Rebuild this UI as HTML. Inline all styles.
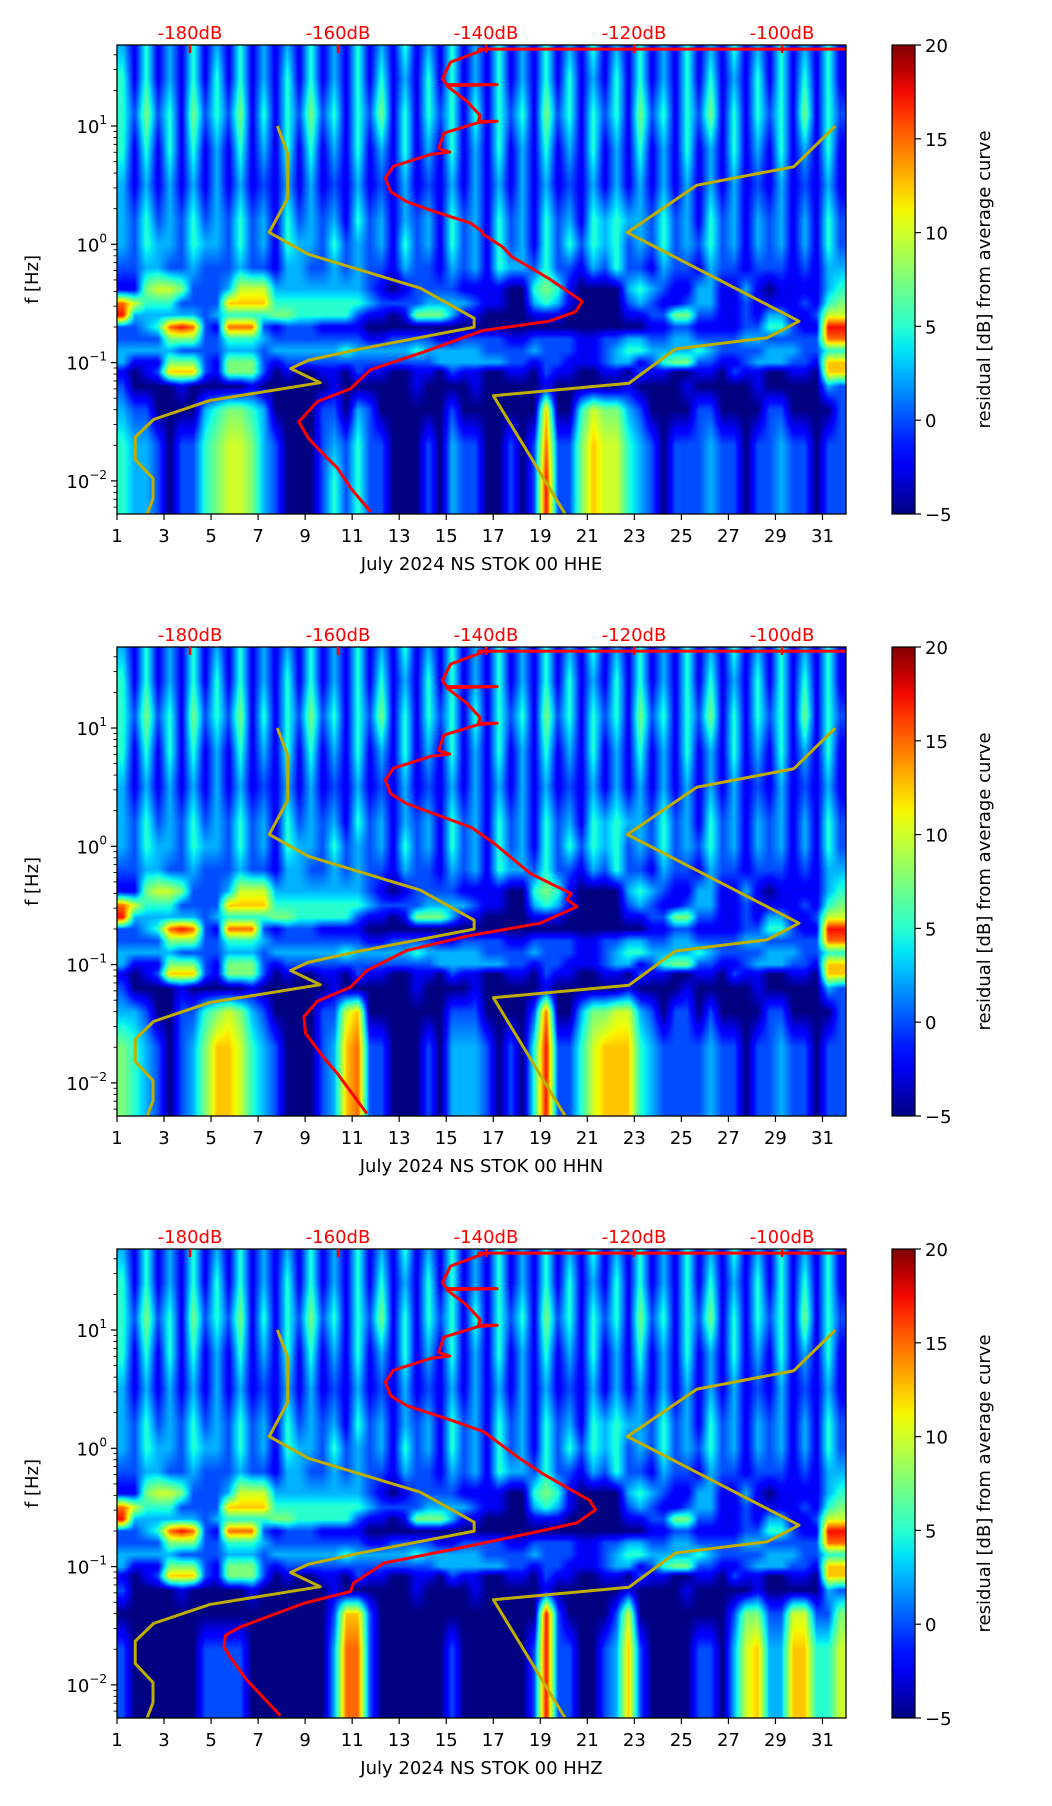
<!DOCTYPE html>
<html><head><meta charset="utf-8"><style>
body{margin:0;background:#fff;width:1052px;height:1806px;position:relative;overflow:hidden;font-family:"DejaVu Sans","Liberation Sans",sans-serif}
canvas{position:absolute}
svg{position:absolute;left:0;top:0}
</style></head><body>
<canvas id="c0" width="729" height="469" style="left:117px;top:45px"></canvas>
<canvas id="c1" width="729" height="469" style="left:117px;top:647px"></canvas>
<canvas id="c2" width="729" height="469" style="left:117px;top:1249px"></canvas>
<svg id="ov" width="1052" height="1806"></svg>
<script>
// ---- data ----
const channels = ["HHE","HHN","HHZ"];
const rowLogF = [1.68,1.4,1.1,0.8,0.5,0.2,0.0,-0.2,-0.38,-0.5,-0.6,-0.7,-0.8,-0.9,-1.0,-1.08,-1.2,-1.4,-1.7,-2.0,-2.28];
const upperRows = [
"31 41 31 41 31 41 31 31 41 31 41 31 41 31 41 31 41 31 41 31 41 31 41 31 41 31 41 31 41 31 41",
"41 41 31 41 41 41 31 41 41 31 41 41 31 41 41 31 41 31 41 41 31 41 41 31 41 41 31 41 41 41 41",
"42 52 41 52 42 51 41 42 52 41 42 51 41 42 41 41 42 41 52 41 42 41 52 41 42 51 41 42 41 51 42",
"41 41 41 41 31 41 31 41 41 31 41 31 41 31 41 31 41 31 41 31 41 31 41 31 41 31 41 31 41 31 41",
"31 31 31 31 31 31 21 31 31 21 31 21 31 21 31 31 31 31 31 21 31 31 31 31 31 31 31 21 31 21 31",
"32 42 32 42 32 42 31 42 32 31 42 31 32 31 42 31 42 31 42 31 43 43 32 42 31 42 31 32 31 31 42",
"32 43 32 43 32 42 31 43 32 42 32 31 42 31 42 31 42 31 42 42 43 42 32 42 32 42 31 32 31 31 42",
"22 33 22 32 22 32 21 33 22 32 32 21 32 21 32 31 43 32 42 21 32 42 21 32 21 32 21 22 21 21 33",
"11 56 65 22 23 66 63 33 33 33 32 10 12 22 21 11 10 04 54 10 00 03 43 21 13 31 13 10 11 11 34",
"86 44 42 22 27 77 74 44 44 44 43 22 22 33 33 21 10 03 43 10 00 02 32 11 23 31 12 11 11 21 45",
"93 33 33 32 34 44 45 54 44 44 21 10 15 55 31 10 00 01 11 00 00 01 12 25 52 21 12 13 31 12 66",
"22 34 89 82 18 88 21 22 21 11 10 00 00 00 00 00 00 00 00 00 00 00 01 12 21 11 12 24 42 11 99",
"22 22 55 52 24 44 32 22 22 22 21 12 22 21 12 22 21 12 22 21 12 23 32 23 32 22 23 32 22 22 88",
"33 33 32 22 23 33 23 33 33 34 33 33 34 33 33 32 22 23 22 21 12 34 43 33 34 32 22 23 33 22 44",
"31 11 55 52 15 55 21 22 22 22 22 22 22 23 33 33 32 21 22 11 12 33 12 45 52 21 12 33 32 21 77",
"10 12 77 72 15 55 20 10 01 10 21 10 01 10 21 10 01 10 21 10 01 10 21 10 01 10 21 10 01 10 77",
"20 00 01 00 00 01 00 00 00 10 00 00 01 00 00 10 00 00 10 00 00 01 00 00 10 00 00 10 00 00 32"
];
const bottomE = [
"32 20 00 03 45 54 30 00 02 20 32 00 00 00 20 00 00 00 70 04 65 53 20 00 02 20 00 02 20 00 02",
"43 32 02 24 56 65 32 00 02 32 42 20 00 20 32 20 02 02 82 25 76 64 32 02 22 32 20 22 32 20 22",
"43 32 02 24 56 65 32 00 02 42 42 20 00 20 32 20 02 02 92 25 76 64 32 02 22 32 20 22 32 20 22",
"43 32 02 24 56 65 32 00 02 42 42 20 00 20 32 20 02 02 92 25 76 64 32 02 22 32 20 22 32 20 22"
];
const bottomN = [
"33 20 02 24 56 53 20 00 02 26 70 00 00 00 22 20 00 02 80 03 55 66 32 02 20 20 00 02 20 00 02",
"54 32 02 35 77 64 32 00 02 37 82 20 00 20 33 32 02 04 92 24 67 77 43 22 22 32 20 22 32 20 22",
"54 32 02 35 77 64 32 00 02 37 82 20 00 20 33 32 02 04 92 24 67 77 43 22 22 32 20 22 32 20 22",
"54 32 02 35 77 64 32 00 02 37 82 20 00 20 33 32 02 04 92 24 67 77 43 22 22 32 20 22 32 20 22"
];
const bottomZ = [
"00 00 00 00 00 00 00 00 00 27 72 00 00 00 00 00 00 00 92 00 00 26 00 00 00 00 25 52 26 62 25",
"20 00 00 02 22 20 00 00 00 38 82 00 00 00 20 00 00 02 92 20 02 37 20 00 02 20 36 73 37 74 46",
"20 00 00 02 22 20 00 00 00 38 82 00 00 00 20 00 00 02 92 20 02 37 20 00 02 20 36 73 37 74 46",
"20 00 00 02 22 20 00 00 00 38 82 00 00 00 20 00 00 02 92 20 02 37 20 00 02 20 36 73 37 74 46"
];
const nlnmDb = [-168.2,-166.8,-166.8,-169.3,-164.0,-148.9,-141.6,-141.6,-157.4,-164.0,-166.4,-162.4,-177.3,-184.9,-187.4,-187.4,-185.0,-185.0,-185.8];
const nlnmLogF = [1.0,0.77,0.39,0.10,-0.085,-0.37,-0.625,-0.70,-0.89,-0.98,-1.05,-1.17,-1.32,-1.48,-1.63,-1.82,-1.98,-2.15,-2.28];
const nhnmDb = [-92.8,-98.4,-111.5,-120.9,-97.7,-102.0,-114.4,-120.7,-139.0,-129.3];
const nhnmLogF = [1.0,0.656,0.50,0.10,-0.65,-0.79,-0.885,-1.175,-1.28,-2.28];
const redTopDb = [-91.4,-141,-140.5,-144.8,-145.9,-145.3,-138.5,-145.3,-142.6,-140.8,-141.0,-138.5,-141.0,-145.7,-146.4,-144.9,-147.5,-152.5,-153.6,-152.9,-150.7];
const redTopLogF = [1.65,1.65,1.64,1.54,1.40,1.35,1.35,1.34,1.21,1.09,1.04,1.04,1.03,0.94,0.81,0.78,0.76,0.66,0.56,0.445,0.36];
const redEDb = [-147.1,-142.1,-140.5,-140.5,-137.8,-136.5,-131.5,-127.5,-127.0,-127.9,-131.5,-140.5,-148.4,-155.6,-158.3,-162.8,-165.3,-164.0,-161.9,-160.1,-158.3,-155.6];
const redELogF = [0.28,0.18,0.107,0.09,-0.02,-0.105,-0.29,-0.46,-0.485,-0.57,-0.65,-0.73,-0.91,-1.06,-1.22,-1.33,-1.50,-1.64,-1.78,-1.89,-2.06,-2.26];
const redNDb = [-142,-139,-134,-128.5,-129.1,-127.7,-132.7,-142.6,-150.7,-156.1,-158.3,-162.8,-164.6,-164.4,-161.9,-160.1,-156.1];
const redNLogF = [0.16,0.03,-0.23,-0.40,-0.45,-0.51,-0.65,-0.76,-0.88,-1.05,-1.19,-1.31,-1.44,-1.58,-1.79,-1.92,-2.26];
const redZDb = [-144.8,-140.3,-135.8,-132.2,-126,-125.2,-127.7,-132.7,-142.6,-153.8,-157.9,-158.3,-164.6,-173.2,-175.2,-175.4,-174.3,-172.3,-167.8];
const redZLogF = [0.24,0.14,-0.07,-0.22,-0.44,-0.52,-0.63,-0.70,-0.83,-0.97,-1.14,-1.21,-1.31,-1.51,-1.58,-1.68,-1.79,-1.96,-2.26];
const dayTicks = [1,3,5,7,9,11,13,15,17,19,21,23,25,27,29,31];
const dbTicks = [-180,-160,-140,-120,-100];
const cbTicks = [-5,0,5,10,15,20];
const yDecades = [-2,-1,0,1];

// ---- layout ----
const L=117, W=729, H=469, tops=[45,647,1249];
const LOGTOP=1.685, LOGBOT=-2.28, DAY0=1, DAY1=32;
const xDay = d => L + (d-DAY0)/(DAY1-DAY0)*W;
const yLog = (t,lf) => t + (LOGTOP-lf)/(LOGTOP-LOGBOT)*H;
const xDb = db => 190 + (db+180)*7.4;

function jet(t){
  t=Math.max(0,Math.min(1,t));
  const f=(x,pts)=>{for(let i=1;i<pts.length;i++){if(x<=pts[i][0]){const a=pts[i-1],b=pts[i];return a[1]+(b[1]-a[1])*(x-a[0])/(b[0]-a[0]);}}return pts[pts.length-1][1];};
  return [f(t,[[0,0],[0.35,0],[0.66,1],[0.89,1],[1,0.5]]),
          f(t,[[0,0],[0.125,0],[0.375,1],[0.64,1],[0.91,0],[1,0]]),
          f(t,[[0,0.5],[0.11,1],[0.34,1],[0.65,0],[1,0]])];
}
function parseRow(s){return s.replace(/\s/g,'').split('').map(c=>-5+(+c)*2.5);}

function drawHeat(cv, rows){
  const g=rows.map(parseRow);
  const ctx=cv.getContext('2d'); const img=ctx.createImageData(W,H);
  const nC=g[0].length;
  for(let py=0;py<H;py++){
    const lf=LOGTOP-(py+0.5)/H*(LOGTOP-LOGBOT);
    let r=0; while(r<rowLogF.length-2 && lf<rowLogF[r+1]) r++;
    let fy=(rowLogF[r]-lf)/(rowLogF[r]-rowLogF[r+1]); fy=Math.max(0,Math.min(1,fy));
    for(let px=0;px<W;px++){
      const d=DAY0+(px+0.5)/W*(DAY1-DAY0);
      let u=(d-DAY0)*2-0.5; u=Math.max(0,Math.min(nC-1.001,u));
      const c=Math.floor(u), fx=u-c;
      const v=(g[r][c]*(1-fx)+g[r][c+1]*fx)*(1-fy)+(g[r+1][c]*(1-fx)+g[r+1][c+1]*fx)*fy;
      const col=jet((v+5)/25); const k=(py*W+px)*4;
      img.data[k]=col[0]*255;img.data[k+1]=col[1]*255;img.data[k+2]=col[2]*255;img.data[k+3]=255;
    }
  }
  ctx.putImageData(img,0,0);
}
const bottoms=[bottomE,bottomN,bottomZ];
for(let p=0;p<3;p++) drawHeat(document.getElementById('c'+p), upperRows.concat(bottoms[p]));

// ---- svg ----
const NS="http://www.w3.org/2000/svg", svg=document.getElementById('ov');
function mk(tag,attrs,parent,text){const e=document.createElementNS(NS,tag);for(const k in attrs)e.setAttribute(k,attrs[k]);if(text!==undefined)e.textContent=text;(parent||svg).appendChild(e);return e;}
const defs=mk('defs',{});
const lg=mk('linearGradient',{id:'jetg',x1:0,y1:1,x2:0,y2:0},defs);
for(let i=0;i<=20;i++){const c=jet(i/20);mk('stop',{offset:i/20,'stop-color':`rgb(${c.map(x=>Math.round(x*255)).join(',')})`},lg);}

const redDb=[redTopDb.concat(redEDb),redTopDb.concat(redNDb),redTopDb.concat(redZDb)];
const redLf=[redTopLogF.concat(redELogF),redTopLogF.concat(redNLogF),redTopLogF.concat(redZLogF)];

for(let p=0;p<3;p++){
  const t=tops[p];
  const g=mk('g',{});
  
  
  const clip=mk('clipPath',{id:'cl'+p},defs); mk('rect',{x:L,y:t,width:W,height:H},clip);
  const cg=mk('g',{'clip-path':`url(#cl${p})`},g);
  const ptsN=nlnmDb.map((d,i)=>xDb(d)+','+yLog(t,nlnmLogF[i])).join(' ');
  const n1=mk('polyline',{points:ptsN,fill:'none',stroke:'#bfae00','stroke-width':3,'stroke-linejoin':'round'},cg);
   
  const ptsH=nhnmDb.map((d,i)=>xDb(d)+','+yLog(t,nhnmLogF[i])).join(' ');
  const n2=mk('polyline',{points:ptsH,fill:'none',stroke:'#bfae00','stroke-width':3,'stroke-linejoin':'round'},cg);
   
  const ptsR=redDb[p].map((d,i)=>xDb(d)+','+yLog(t,redLf[p][i])).join(' ');
  const rc=mk('polyline',{points:ptsR,fill:'none',stroke:'#ff0000','stroke-width':3,'stroke-linejoin':'round'},cg);
   
  const fr=mk('rect',{x:L,y:t,width:W,height:H,fill:'none',stroke:'#000','stroke-width':1.3},g);
   
  dayTicks.forEach(d=>{const x=xDay(d);
    mk('line',{x1:x,x2:x,y1:t+H,y2:t+H+6,stroke:'#000','stroke-width':1.2},g);
    const tx=mk('text',{x:x,y:t+H+28,'font-size':18,'text-anchor':'middle',fill:'#000'},g,String(d));
     });
  const xl=mk('text',{x:L+W/2,y:t+H+56,'font-size':18,'text-anchor':'middle',fill:'#000'},g,'July 2024 NS STOK 00 '+channels[p]);
   
  yDecades.forEach(e=>{const y=yLog(t,e);
    mk('line',{x1:L-6,x2:L,y1:y,y2:y,stroke:'#000','stroke-width':1.2},g);
    const tx=mk('text',{x:L-10,y:y+7,'font-size':18,'text-anchor':'end',fill:'#000'},g);
     
    mk('tspan',{},tx,'10'); mk('tspan',{'font-size':12,dy:-9},tx,e<0?'\u2212'+(-e):String(e));
  });
  for(let e=-3;e<=1;e++)for(let m=2;m<=9;m++){const lf=e+Math.log10(m);if(lf<LOGBOT||lf>LOGTOP)continue;const y=yLog(t,lf);
    mk('line',{x1:L-3.5,x2:L,y1:y,y2:y,stroke:'#000','stroke-width':0.9},g);}
  const yl=mk('text',{x:0,y:0,'font-size':18,'text-anchor':'middle',fill:'#000',transform:`translate(38,${t+H/2}) rotate(-90)`},g,'f [Hz]');
   
  dbTicks.forEach(db=>{const x=xDb(db);
    mk('line',{x1:x,x2:x,y1:t,y2:t+8,stroke:'#ff0000','stroke-width':2.5},g);
    const tx=mk('text',{x:x,y:t-6,'font-size':18,'text-anchor':'middle',fill:'#ff0000'},g,db+'dB');
     });
  const cb=mk('rect',{x:892,y:t,width:23,height:H,fill:'url(#jetg)',stroke:'#000','stroke-width':1.2},g);
   
  cbTicks.forEach(v=>{const y=t+H-(v+5)/25*H;
    mk('line',{x1:915,x2:921,y1:y,y2:y,stroke:'#000','stroke-width':1.2},g);
    const tx=mk('text',{x:925,y:y+7,'font-size':18,fill:'#000'},g,v<0?'\u2212'+(-v):String(v));
     });
  const cl=mk('text',{x:0,y:0,'font-size':18,'text-anchor':'middle',fill:'#000',transform:`translate(990,${t+H/2}) rotate(-90)`},g,'residual [dB] from average curve');
   
}
</script>
</body></html>
